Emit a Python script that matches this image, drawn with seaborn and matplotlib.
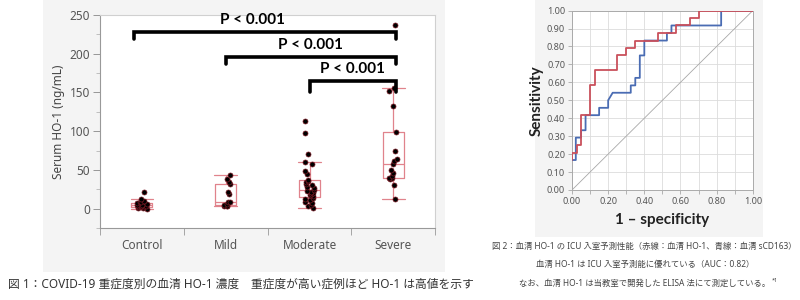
import numpy as np
import pandas as pd
import matplotlib
matplotlib.use("Agg")
import matplotlib.pyplot as plt
import seaborn as sns
from matplotlib.patches import Rectangle
from matplotlib.ticker import MultipleLocator, FixedLocator

# ---- Serum HO-1 (ng/mL) by COVID-19 severity ----
groups = ["Control", "Mild", "Moderate", "Severe"]
control = [0, 1, 1, 2, 2, 3, 3, 4, 4, 5, 5, 6, 7, 8, 9, 10, 12, 22]
mild = [3, 4, 4, 5, 6, 8, 9, 19, 22, 32, 34, 38, 43]
moderate = [1, 3, 5, 7, 9, 11, 13, 14, 16, 18, 19, 20, 21, 22, 23, 24, 26, 28,
            30, 32, 34, 36, 37, 45, 48, 57, 60, 71, 98, 113]
severe = [13, 30, 38, 40, 40, 42, 46, 50, 58, 61, 64, 75, 99, 132, 152, 156, 237]

# pairwise comparisons: (left group, right group, bracket height)
comparisons = [("Control", "Severe", 228), ("Mild", "Severe", 196), ("Moderate", "Severe", 165)]
p_label = "P < 0.001"

# ---- ROC curves for ICU admission ----
ho1_fpr = [0, 0, 0.025, 0.025, 0.05, 0.05, 0.10, 0.10, 0.125, 0.125, 0.25, 0.25,
           0.30, 0.30, 0.35, 0.35, 0.475, 0.475, 0.575, 0.575, 0.65, 0.65, 0.70, 0.70, 1.0]
ho1_tpr = [0.167, 0.208, 0.208, 0.25, 0.25, 0.417, 0.417, 0.583, 0.583, 0.667, 0.667, 0.75,
           0.75, 0.792, 0.792, 0.833, 0.833, 0.875, 0.875, 0.917, 0.917, 0.958, 0.958, 1.0, 1.0]
cd163_fpr = [0, 0.021, 0.021, 0.05, 0.05, 0.075, 0.075, 0.15, 0.15, 0.20, 0.20, 0.225,
             0.325, 0.325, 0.35, 0.35, 0.375, 0.375, 0.40, 0.40, 0.525, 0.525, 0.55, 0.55,
             0.825, 0.825, 1.0]
cd163_tpr = [0.167, 0.167, 0.292, 0.292, 0.333, 0.333, 0.417, 0.417, 0.458, 0.458, 0.50, 0.542,
             0.542, 0.583, 0.583, 0.625, 0.625, 0.75, 0.75, 0.833, 0.833, 0.875, 0.875, 0.917,
             0.917, 1.0, 1.0]

caption1 = "図 1：COVID-19 重症度別の血清 HO-1 濃度　重症度が高い症例ほど HO-1 は高値を示す"
caption2 = ["図 2：血清 HO-1 の ICU 入室予測性能（赤線：血清 HO-1、青線：血清 sCD163）",
            "血清 HO-1 は ICU 入室予測能に優れている（AUC：0.82）",
            "なお、血清 HO-1 は当教室で開発した ELISA 法にて測定している。"]
footnote_mark = "*1"

sns.set_style("white")
plt.rcParams["font.family"] = ["Noto Sans", "Noto Sans CJK JP", "DejaVu Sans"]

df = pd.DataFrame({
    "group": sum([[g] * len(v) for g, v in zip(groups, [control, mild, moderate, severe])], []),
    "value": control + mild + moderate + severe,
})

fig = plt.figure(figsize=(8, 3), dpi=100)
fig.patch.set_facecolor("white")
panel_bg = "#f4f4f4"
fig.add_artist(Rectangle((0.054, 0.093), 0.502, 0.907, transform=fig.transFigure,
                         facecolor=panel_bg, edgecolor="none", zorder=0))
fig.add_artist(Rectangle((0.669, 0.21), 0.285, 0.79, transform=fig.transFigure,
                         facecolor=panel_bg, edgecolor="none", zorder=0))

# ---------- left: box + strip ----------
ax1 = fig.add_axes([0.125, 0.24, 0.419, 0.71])
ax1.set_facecolor("white")
box_color = "#e0838c"
sns.boxplot(data=df, x="group", y="value", order=groups, fill=False, color=box_color,
            width=0.25, linewidth=0.9, showfliers=False, capwidths=0.27, ax=ax1)
sns.stripplot(data=df, x="group", y="value", order=groups, color="black", size=3.6,
              jitter=0.06, edgecolor="#7a1a24", linewidth=0.5, ax=ax1, zorder=3)

ax1.set_xlim(-0.5, 3.5)
ax1.set_ylim(-25, 250)
ax1.set_xlabel("")
ax1.set_ylabel("Serum HO-1 (ng/mL)", fontsize=8.5, color="#444444", labelpad=3)
ax1.yaxis.set_major_locator(FixedLocator([0, 50, 100, 150, 200, 250]))
ax1.yaxis.set_minor_locator(FixedLocator([-25, 25, 75, 125, 175, 225]))
ax1.xaxis.set_minor_locator(FixedLocator([-0.5, 0.5, 1.5, 2.5, 3.5]))
ax1.tick_params(axis="y", which="major", direction="out", length=5, width=0.6,
                color="#888888", labelsize=8.5, labelcolor="#555555", left=True, pad=2)
ax1.tick_params(axis="y", which="minor", direction="out", length=3, width=0.5,
                color="#aaaaaa", left=True)
ax1.tick_params(axis="x", which="major", length=0, labelsize=8.5, labelcolor="#555555", pad=8)
ax1.tick_params(axis="x", which="minor", direction="out", length=5, width=0.6,
                color="#999999", bottom=True)
for side in ["left", "bottom"]:
    ax1.spines[side].set_color("#999999")
    ax1.spines[side].set_linewidth(0.8)
for side in ["top", "right"]:
    ax1.spines[side].set_color("#d0d0d0")
    ax1.spines[side].set_linewidth(0.8)

# significance brackets with their p-value labels
pos = {g: i for i, g in enumerate(groups)}
label_shift = {"Control": -0.14, "Mild": 0.0, "Moderate": 0.0}
for left, right, h in comparisons:
    x0, x1 = pos[left], pos[right] + 0.03
    if left == "Control":
        x0 -= 0.1
    leg = 9 if left != "Moderate" else 14
    ax1.plot([x0, x0, x1, x1], [h - leg, h, h, h - leg], color="black", lw=2.6,
             solid_joinstyle="miter", zorder=4, clip_on=False)
    ax1.text((x0 + x1) / 2 + label_shift[left], h + 6, p_label, ha="center", va="bottom",
             fontsize=11, fontweight="bold", color="black", family="Lato")

# ---------- right: ROC ----------
ax2 = fig.add_axes([0.715, 0.3667, 0.226, 0.598])
ax2.set_facecolor("white")
ax2.plot([0, 1], [0, 1], color="#a8a8a8", lw=0.6, zorder=1)
sns.lineplot(x=cd163_fpr, y=cd163_tpr, sort=False, estimator=None, color="#4a6cb3",
             lw=1.3, ax=ax2, zorder=3)
sns.lineplot(x=ho1_fpr, y=ho1_tpr, sort=False, estimator=None, color="#c9505c",
             lw=1.3, ax=ax2, zorder=4)
ax2.set_xlim(0, 1)
ax2.set_ylim(0, 1)
ax2.xaxis.set_major_locator(MultipleLocator(0.2))
ax2.xaxis.set_minor_locator(MultipleLocator(0.1))
ax2.yaxis.set_major_locator(MultipleLocator(0.1))
ax2.set_xticklabels([f"{v:.2f}" for v in ax2.get_xticks()])
ax2.set_yticklabels([f"{v:.2f}" for v in ax2.get_yticks()])
ax2.grid(which="both", color="#dcdcdc", lw=0.6)
ax2.set_axisbelow(True)
ax2.tick_params(axis="both", which="major", direction="out", length=3, width=0.5,
                color="#999999", labelsize=6.5, labelcolor="#555555", pad=2,
                left=True, bottom=True)
ax2.tick_params(axis="x", which="minor", direction="out", length=3, width=0.5,
                color="#999999", bottom=True)
for side in ax2.spines.values():
    side.set_color("#aaaaaa")
    side.set_linewidth(0.7)
ax2.set_xlabel("1 – specificity", fontsize=11, fontweight="bold", color="#222222",
               labelpad=5, family="Lato")
ax2.set_ylabel("Sensitivity", fontsize=11, fontweight="bold", color="#222222",
               labelpad=2, family="Lato")

# ---------- captions ----------
fig.text(0.01, 0.053, caption1, fontsize=8.5, color="#333333", ha="left", va="center")
cap_texts = []
for y, line in zip([0.177, 0.117, 0.057], caption2):
    cap_texts.append(fig.text(0.806, y, line, fontsize=6, color="#444444",
                              ha="center", va="center"))

# superscript footnote mark placed just after the last caption line
fig.canvas.draw()
bb = cap_texts[-1].get_window_extent()
fig.text(bb.x1 / fig.bbox.width + 0.002, bb.y1 / fig.bbox.height, footnote_mark,
         fontsize=4, color="#444444", ha="left", va="top")

fig.savefig("out.png", dpi=100, facecolor="white")
